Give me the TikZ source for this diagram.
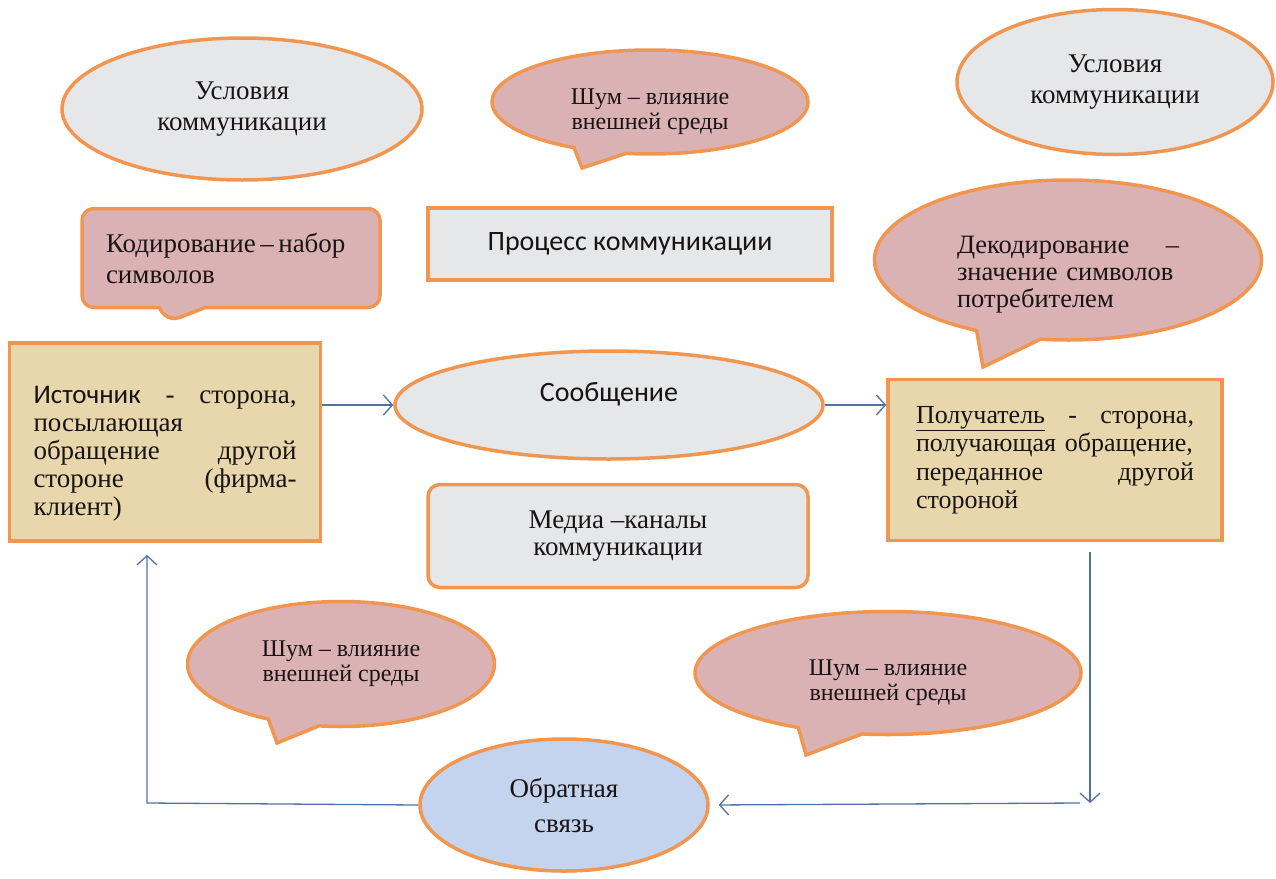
\documentclass[tikz,border=0pt]{standalone}
\usepackage{fontspec}
\setmainfont{Liberation Serif}
\newfontfamily\calibri{Carlito}
\usetikzlibrary{shapes.geometric,shapes.callouts,arrows.meta}
\definecolor{brd}{RGB}{240,150,80}
\definecolor{grayfill}{RGB}{230,231,233}
\definecolor{pinkfill}{RGB}{219,178,180}
\definecolor{tanfill}{RGB}{232,214,172}
\definecolor{bluefill}{RGB}{196,212,238}
\definecolor{flowc}{RGB}{80,112,168}
\definecolor{textc}{RGB}{25,20,20}
\tikzset{
  box/.style={draw=brd,line width=3.5pt,text=textc,font=\fontsize{27pt}{31pt}\selectfont},
  oval/.style={box,ellipse,inner sep=0pt,align=center},
  talk/.style={box,ellipse callout,callout pointer arc=20,inner sep=0pt,fill=pinkfill,align=center},
  noisetext/.style={font=\fontsize{24pt}{25pt}\selectfont},
  flow/.style={draw=flowc,line width=1.3pt,-{Straight Barb[length=9pt,width=20pt]}}
}
\begin{document}
\begin{tikzpicture}[x=1pt,y=-1pt]
\useasboundingbox (0,0) rectangle (1276,878);
% conditions and noise on top
\node[oval,fill=grayfill,minimum width=360pt,minimum height=142pt] (cond1) at (242,109) {Условия\\коммуникации};
\node[talk,noisetext,minimum width=316pt,minimum height=104pt,callout absolute pointer={(582,168)}] (noise1) at (650,102) {\rule{0pt}{36pt}Шум -- влияние\\внешней среды};
\node[oval,fill=grayfill,minimum width=316pt,minimum height=145pt] (cond2) at (1115,82) {Условия\\коммуникации};
% coding, title and decoding
\node[box,rectangle callout,rounded corners=12pt,fill=pinkfill,text width=250pt,inner xsep=24pt,minimum height=99pt,align=left,
  callout pointer width=46pt,callout absolute pointer={(168,322)}] (code) at (231,258) {Кодирование\,–\,набор\\символов};
\node[box,rectangle,fill=grayfill,minimum width=404pt,minimum height=72pt,font=\calibri\fontsize{28pt}{31pt}\selectfont] (proc) at (630,244) {Процесс коммуникации};
\node[talk,minimum width=387pt,minimum height=160pt,text width=222pt,align=left,font=\fontsize{26.5pt}{27pt}\selectfont,
  callout absolute pointer={(983,367)}] (decode) at (1068,260)
  {\rule{0pt}{46pt}Декодирование \hfill --\\\makebox[\linewidth][s]{значение символов}\\потребителем};
% source, message, receiver
\node[box,rectangle,fill=tanfill,text width=263pt,inner xsep=24pt,minimum height=198pt,align=left,font=\fontsize{27pt}{28pt}\selectfont] (src) at (165,442)
  {\rule{0pt}{41pt}{\calibri Источник} \hfill - \hfill сторона,\\посылающая\\обращение \hfill другой\\стороне \hfill (фирма-\\клиент)};
\node[oval,fill=grayfill,minimum width=428pt,minimum height=108pt,font=\calibri\fontsize{28pt}{31pt}\selectfont] (msg) at (609,405) {\raisebox{4pt}[0pt][0pt]{Сообщение}};
\node[box,rectangle,fill=tanfill,text width=278pt,inner xsep=28pt,minimum height=161pt,align=left,font=\fontsize{26pt}{28.5pt}\selectfont] (rcv) at (1055,460)
  {\underline{Получатель} \hfill - \hfill сторона,\\\makebox[\linewidth][s]{получающая обращение,}\\переданное \hfill другой\\стороной};
\node[box,rectangle,rounded corners=12pt,fill=grayfill,minimum width=380pt,minimum height=103pt,align=center,font=\fontsize{27pt}{27pt}\selectfont] (media) at (618,536) {Медиа --каналы\\коммуникации};
% noise at the bottom and feedback
\node[talk,noisetext,minimum width=307pt,minimum height=125pt,callout absolute pointer={(277,743)}] (noise2) at (341,664) {Шум -- влияние\\внешней среды};
\node[talk,noisetext,minimum width=386pt,minimum height=123pt,callout absolute pointer={(806,755)}] (noise3) at (888,673) {\rule{0pt}{36pt}Шум -- влияние\\внешней среды};
\node[oval,fill=bluefill,minimum width=288pt,minimum height=132pt,font=\fontsize{27pt}{35pt}\selectfont] (fb) at (564,805) {Обратная\\связь};
% arrows
\coordinate (dtop) at (1090,552);
\coordinate (dbot) at (1090,803);
\coordinate (hright) at (1080,803);
\coordinate (lcorner) at (147,803);
\coordinate (ltop) at (147,555);
\draw[flow] (src.east |- msg.west) -- (msg.west);
\draw[flow] (msg.east) -- (msg.east -| rcv.west);
\draw[flow] (dtop) -- (dbot);
\draw[flow,shorten >=9pt] (hright) -- (fb.east);
\draw[flow] (fb.west) -- (lcorner) -- (ltop);
\end{tikzpicture}
\end{document}
